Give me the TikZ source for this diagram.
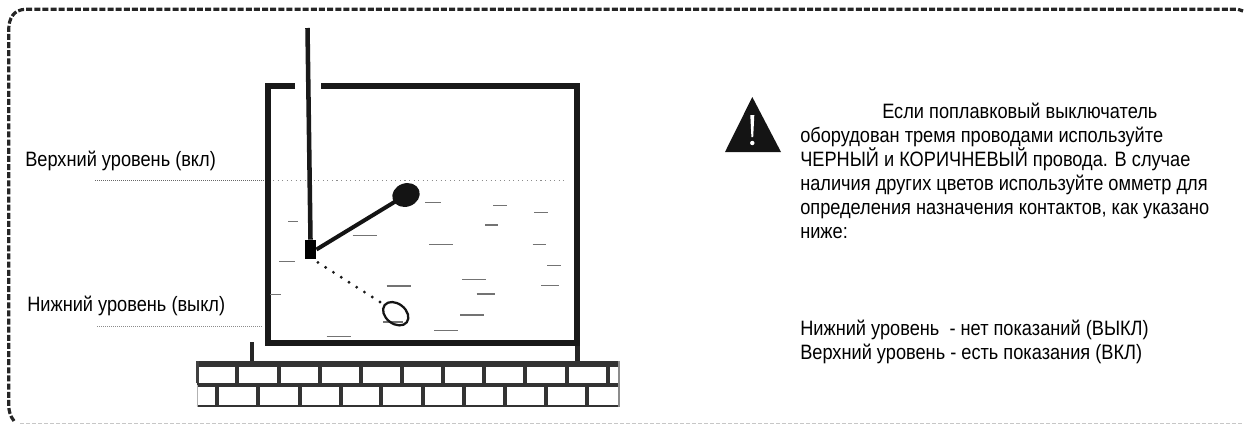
\documentclass[tikz,border=0pt]{standalone}
\usetikzlibrary{shapes.geometric}
\usepackage{fontspec}
\setmainfont[FakeStretch=0.875]{Liberation Sans}
\tikzset{
  px/.style={x=0.75pt,y=-0.75pt},
  wall/.style={draw=black!90,line width=4.5pt,line cap=butt},
  brick/.style={draw=black!80,line width=3pt},
  wave/.style={draw=black!55,line width=0.8pt},
  lbl/.style={anchor=base west,inner sep=0pt,font=\fontsize{15.6pt}{18pt}\selectfont},
}
\begin{document}
\begin{tikzpicture}[px]
\useasboundingbox (0,0) rectangle (1245,425);
% border
\coordinate (bs) at (20,423.5);
\coordinate (be) at (1243,423.5);
\draw[black!85,line width=2.4pt,dash pattern=on 4.5pt off 1.6pt] (14,421) .. controls (10,416) and (8.7,410) .. (8.7,405) -- (8.7,30) .. controls (8.7,18) and (14,9.3) .. (26,9.3) -- (1238,9.3) -- (1243,11);
\draw[black!22,line width=1pt,dash pattern=on 3pt off 1.5pt] (bs) -- (be);
% tank
\coordinate (tl) at (295,86);
\coordinate (tc) at (268,86);
\draw[wall] (tl) -- (tc) -- (268,343) -- (577,343) -- (577,86) -- (321,86);
% levels
\coordinate (u1) at (95,180);
\coordinate (u2) at (264,180);
\coordinate (u3) at (273,180);
\coordinate (u4) at (565,180);
\draw[black!60,line width=0.7pt,dash pattern=on 1pt off 0.5pt] (u1) -- (u2);
\draw[black!45,line width=0.7pt,dash pattern=on 0.8pt off 2.6pt] (u3) -- (u4);
\coordinate (l1) at (97,326.5);
\coordinate (l2) at (262,326.5);
\draw[black!45,line width=0.7pt,dash pattern=on 1pt off 0.5pt] (l1) -- (l2);
% waves
\foreach \a/\b/\c in {288.3/298.3/221.7, 279/295/261.3, 270/281/294.7, 352.7/376.7/235.7,
  425/441/202.7, 429/452.7/244.3, 386.7/410.7/286, 493.3/506.7/205.7, 485/498.3/225,
  534.3/547.7/212.3, 532.7/546/244.7, 547.3/560.7/265.7, 462.3/485.7/279.3,
  476.7/495.3/294, 541.3/559.3/285.7, 460/484/315, 434/457.7/330.7, 326.7/351/336.3,
  383/403/322}
  {\draw[wave] (\a,\c) -- (\b,\c);}
% rod and float
\node[fill=black,minimum width=8.5pt,minimum height=14.5pt,inner sep=0pt] (blk) at (310.5,249.5) {};
\coordinate (rodtop) at (307.5,28);
\draw[black!90,line width=3.4pt] (rodtop) -- (blk.north);
\node[fill=black!92,ellipse,minimum width=21pt,minimum height=17.5pt,inner sep=0pt,rotate=20] (fb) at (406,195) {};
\draw[black!92,line width=3pt] (blk.east) -- (fb.center);
\node[draw=black!92,line width=1.7pt,ellipse,minimum width=21pt,minimum height=15pt,inner sep=0pt,rotate=-38] (fw) at (395.7,313.7) {};
\draw[black!90,line width=2.4pt,line cap=round,dash pattern=on 0pt off 6.9pt] ([shift={(1.5,3)}]blk.south east) -- (fw.west);
% feet
\coordinate (fa) at (252,342);
\coordinate (fb2) at (252,362);
\coordinate (fc) at (577.5,346);
\coordinate (fd) at (577.5,362);
\draw[black!85,line width=3.2pt] (fa) -- (fb2);
\draw[black!85,line width=3.2pt] (fc) -- (fd);
% bricks
\draw[brick,line width=4.5pt] (196.5,363.7) -- (619,363.7);
\draw[brick,line width=3.7pt] (196.5,385) -- (619,385);
\draw[brick,line width=2.2pt] (196.5,406) -- (619,406);
\draw[black!75,line width=1.6pt] (197.5,361) -- (197.5,383);
\draw[black!30,line width=1pt] (197.5,385) -- (197.5,407);
\draw[black!45,line width=1pt] (619,361) -- (619,407);
\foreach \x in {237.3,278.7,319.7,361.3,402,442.7,484.3,525,566.7,607.7}
  \draw[brick] (\x,364) -- (\x,385);
\foreach \x in {217.3,258,299.7,340.7,381.3,423,463.7,505.3,546,586.7}
  \draw[brick] (\x,385) -- (\x,406);
% labels
\node[lbl] (t1) at (25,166) {Верхний уровень (вкл)};
\node[lbl] (t2) at (27,311.5) {Нижний уровень (выкл)};
% warning
\fill[black!92] (752.3,97) -- (781,152) -- (725,152) -- cycle;
\fill[white] (750.3,115) -- (754.3,115) -- (753.2,137) -- (751.4,137) -- cycle;
\fill[white] (752.3,143) circle (2.2);
% text
\node[lbl] (a1) at (882,118) {Если поплавковый выключатель};
\node[lbl] (a2) at (800,142) {оборудован тремя проводами используйте};
\node[lbl] (a3) at (800,166) {ЧЕРНЫЙ и КОРИЧНЕВЫЙ провода. В случае};
\node[lbl] (a4) at (800,190) {наличия других цветов используйте омметр для};
\node[lbl] (a5) at (800,214) {определения назначения контактов, как указано};
\node[lbl] (a6) at (800,238) {ниже:};
\node[lbl] (b1) at (800,335) {Нижний уровень\ \ - нет показаний (ВЫКЛ)};
\node[lbl] (b2) at (800,359) {Верхний уровень - есть показания (ВКЛ)};
\end{tikzpicture}
\end{document}
